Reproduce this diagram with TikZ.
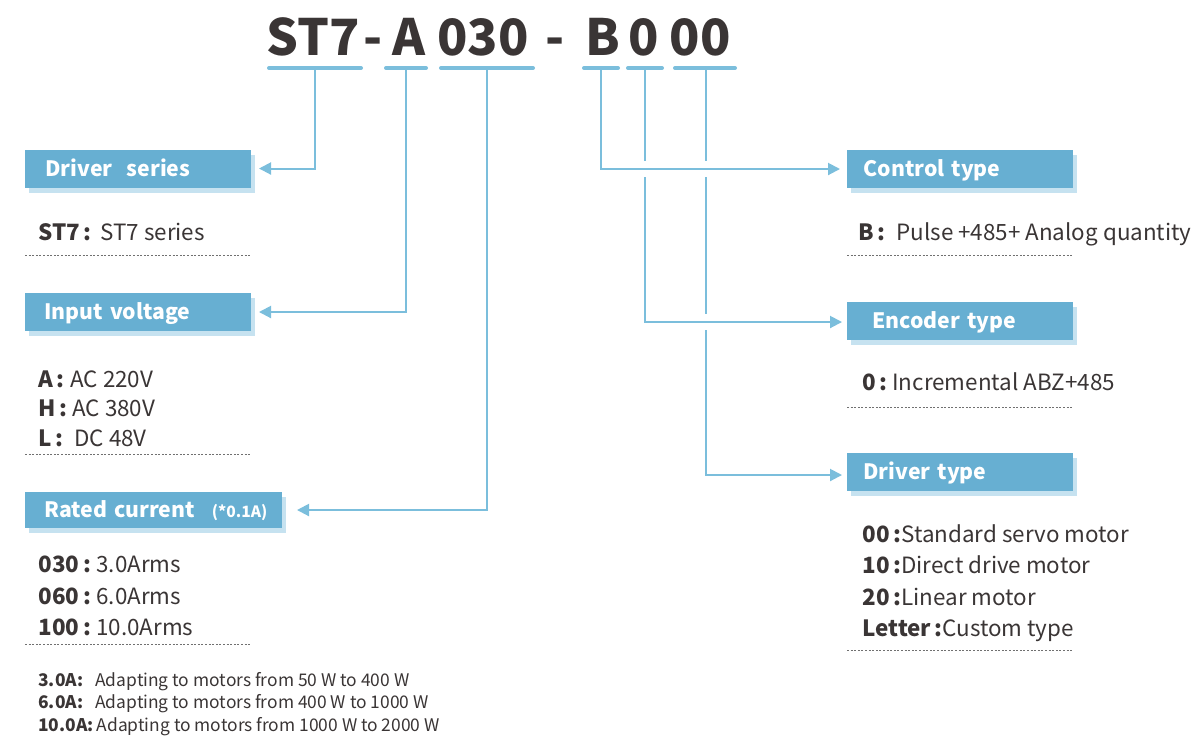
\documentclass[tikz,border=0pt]{standalone}
\usepackage{fontspec}
\setmainfont{Noto Sans CJK SC}
\usetikzlibrary{arrows.meta,shadows}
\definecolor{boxblue}{HTML}{67AFD2}
\definecolor{lineblue}{HTML}{7BBEDC}
\definecolor{shadowblue}{HTML}{C6E2F0}
\definecolor{txt}{HTML}{3A3535}
\definecolor{dotgray}{HTML}{707070}
\newcommand{\lab}[2]{\makebox[#1][l]{\bfseries #2\,:}}
\begin{document}
\begin{tikzpicture}[x=0.5pt,y=-0.5pt,
  conn/.style={draw=lineblue,line width=1pt,-{Triangle[length=6pt,width=6pt]}},
  halo/.style={preaction={draw=white,line width=8pt,-}},
  uline/.style={draw=lineblue,line width=2pt,line cap=round},
  box/.style={fill=boxblue,minimum height=19pt,text=white,font=\fontsize{10.6pt}{12pt}\selectfont\bfseries,align=left,anchor=west,text height=8.5pt,text depth=1pt,drop shadow={shadow xshift=2pt,shadow yshift=-2.5pt,fill=shadowblue,opacity=1}},
  title/.style={font=\fontsize{25pt}{30pt}\selectfont\bfseries,text=txt,anchor=base,inner sep=0pt},
  item/.style={font=\fontsize{11.2pt}{13pt}\selectfont,text=txt,anchor=base west,inner sep=0pt},
  note/.style={font=\fontsize{8.7pt}{10pt}\selectfont,text=txt,anchor=base west,inner sep=0pt},
  sep/.style={draw=dotgray,line width=0.4pt,dash pattern=on 1pt off 0.8pt}]

\useasboundingbox (0,0) rectangle (1198,736);

% title parts
\node[title] (p1) at (313,55) {ST7};
\node[title] (h1) at (373,55) {-};
\node[title] (p2) at (409,55) {A};
\node[title] (p3) at (483,55) {030};
\node[title] (h2) at (555,55) {-};
\node[title] (p4) at (603,55) {B};
\node[title] (p5) at (644,55) {0};
\node[title] (p6) at (700,55) {00};

% tick coordinates
\coordinate (t1) at (315,68);
\coordinate (t2) at (406,68);
\coordinate (t3) at (487,68);
\coordinate (t4) at (601,68);
\coordinate (t5) at (645,68);
\coordinate (t6) at (706,68);

% box edge coordinates
\coordinate (dsE) at (251,168.5);
\coordinate (ivE) at (251,312);
\coordinate (rcE) at (282,510);
\coordinate (ctW) at (847,169);
\coordinate (etW) at (847,322);
\coordinate (dtW) at (847,475);

% connectors
\draw[conn] (t1) |- ([xshift=4pt]dsE);
\draw[conn] (t2) |- ([xshift=4pt]ivE);
\draw[conn] (t3) |- ([xshift=7.5pt]rcE);
\draw[conn,halo] (t6) |- ([xshift=-2.5pt]dtW);
\draw[conn,halo] (t5) |- ([xshift=-2.5pt]etW);
\draw[conn,halo] (t4) |- ([xshift=-3.5pt]ctW);

% underlines
\draw[uline] (269,68) -- (361,68);
\draw[uline] (386,68) -- (426,68);
\draw[uline] (441,68) -- (533,68);
\draw[uline] (584,68) -- (618,68);
\draw[uline] (628,68) -- (662,68);
\draw[uline] (675,68) -- (735,68);

% boxes
\node[box,inner xsep=10pt,text width=93pt] (ds) at (25,168.5) {Driver\ \ series};
\node[box,inner xsep=9.5pt,text width=94pt] (iv) at (25,312) {Input voltage};
\node[box,inner xsep=9.5pt,text width=109.5pt,minimum height=18pt] (rc) at (25,510) {\makebox[0pt][l]{Rated current\hspace{8.5pt}{\fontsize{7.8pt}{8pt}\selectfont (*0.1A)}}};
\node[box,inner xsep=8pt,text width=97pt] (ct) at (847,169) {Control type};
\node[box,inner xsep=12.5pt,text width=88pt] (et) at (847,321) {Encoder type};
\node[box,inner xsep=8pt,text width=97pt] (dt) at (847,472) {Driver type};

% left items
\node[item] (i1) at (38,240) {\lab{31pt}{ST7}ST7 series};
\draw[sep] (25,255) -- (250,255);
\node[item] (i2) at (38,387) {\lab{16pt}{A}AC 220V};
\node[item] (i3) at (38,416) {\lab{17pt}{H}AC 380V};
\node[item] (i4) at (38,446) {\lab{18pt}{L}DC 48V};
\draw[sep] (25,454) -- (250,454);
\node[item] (i5) at (38,572) {\lab{29pt}{030}3.0Arms};
\node[item] (i6) at (38,604) {\lab{29pt}{060}6.0Arms};
\node[item] (i7) at (38,635) {\lab{29pt}{100}10.0Arms};
\draw[sep] (25,644) -- (250,644);
\node[note] (n1) at (38,686) {\makebox[28.5pt][l]{\bfseries 3.0A:}Adapting to motors from 50 W to 400 W};
\node[note] (n2) at (38,708) {\makebox[28.5pt][l]{\bfseries 6.0A:}Adapting to motors from 400 W to 1000 W};
\node[note] (n3) at (38,731) {{\bfseries 10.0A:}\,Adapting to motors from 1000 W to 2000 W};

% right items
\node[item] (r1) at (858,240) {\lab{19pt}{B}Pulse +485+ Analog quantity};
\draw[sep] (847,255) -- (1072,255);
\node[item] (r2) at (862,390) {\lab{15pt}{0}Incremental ABZ+485};
\draw[sep] (847,407) -- (1072,407);
\node[item] (r3) at (862,542) {\lab{19.5pt}{00}Standard servo motor};
\node[item] (r4) at (862,573) {\lab{19.5pt}{10}Direct drive motor};
\node[item] (r5) at (862,605) {\lab{19.5pt}{20}Linear motor};
\node[item] (r6) at (862,636) {\lab{40pt}{Letter}Custom type};
\draw[sep] (847,650) -- (1072,650);
\end{tikzpicture}
\end{document}
